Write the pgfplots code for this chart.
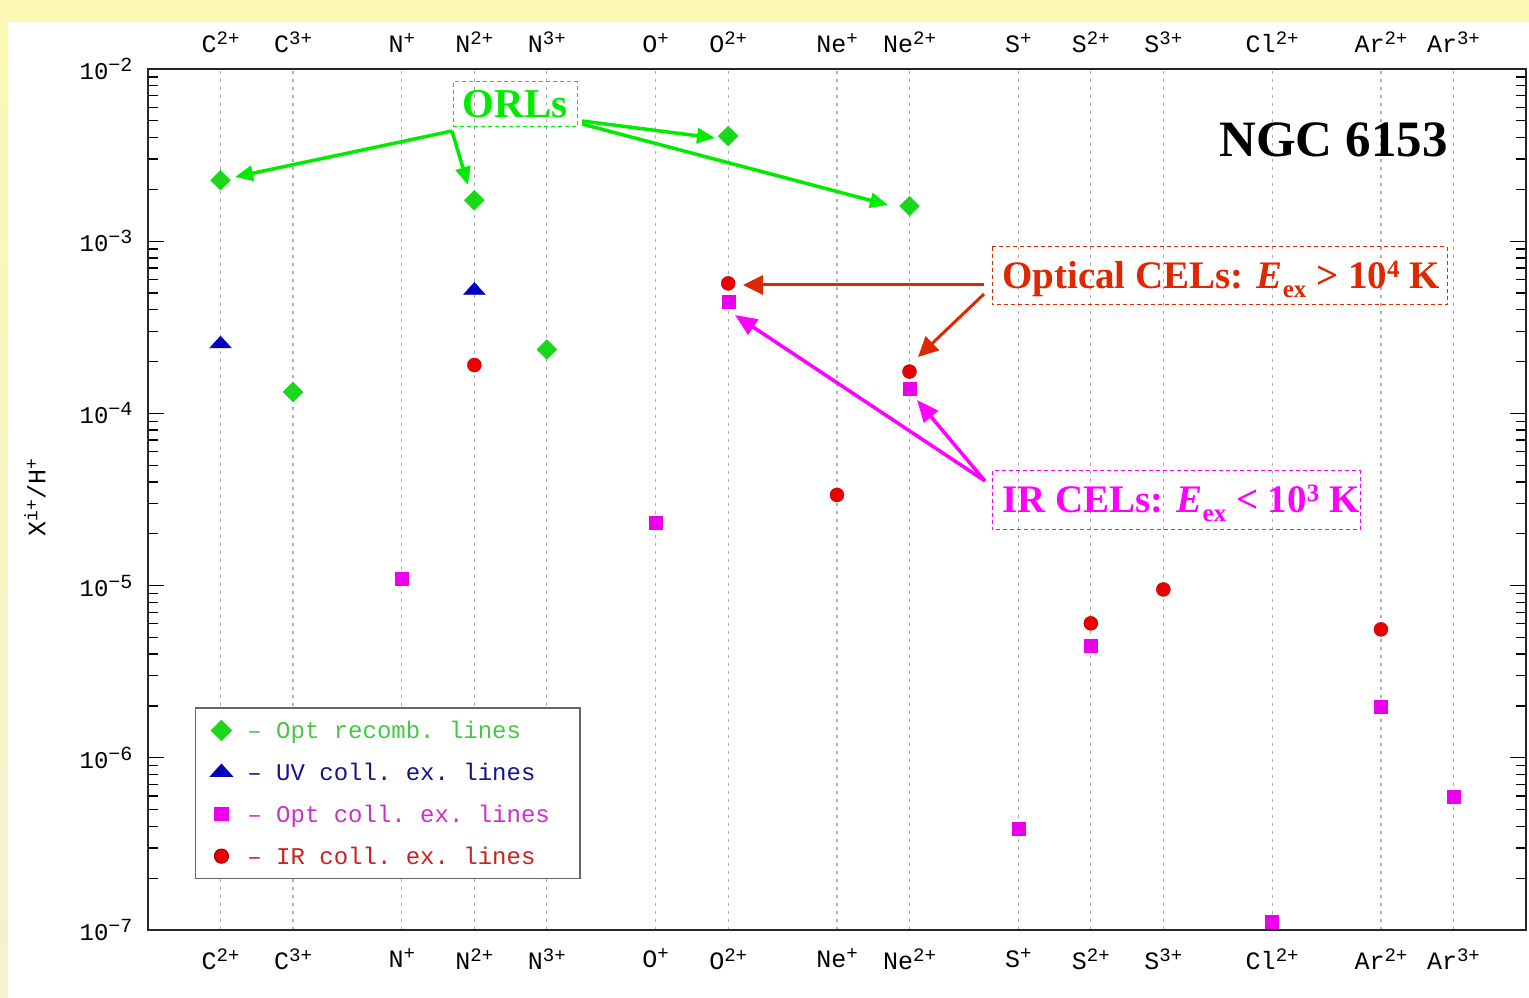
\documentclass[border=0pt]{standalone}
\usepackage{pgfplots}
\pgfplotsset{compat=1.18}
\usepackage{fontspec}
\setmainfont{Liberation Serif}
\setmonofont{Liberation Mono}
\usetikzlibrary{arrows.meta}

% marker and text colours
\definecolor{orlgreen}{RGB}{25,215,25}
\definecolor{orltext}{RGB}{70,200,70}
\definecolor{uvblue}{RGB}{0,0,190}
\definecolor{uvtext}{RGB}{20,20,140}
\definecolor{optmag}{RGB}{235,0,235}
\definecolor{opttext}{RGB}{200,50,200}
\definecolor{irred}{RGB}{235,0,0}
\definecolor{irtext}{RGB}{200,35,35}
\definecolor{annred}{RGB}{222,40,0}
\definecolor{annmag}{RGB}{255,0,255}
\definecolor{anngreen}{RGB}{0,235,0}
\definecolor{bandyellow}{RGB}{250,248,178}
\definecolor{bandlav}{RGB}{230,230,246}
\definecolor{bandbeige}{RGB}{244,242,208}

\newcommand{\tickfont}{\ttfamily\fontsize{25}{28}\selectfont}
\newcommand{\legfont}{\ttfamily\fontsize{24}{28}\selectfont}
% ion name with a raised charge
\newcommand{\ion}[2]{#1\raisebox{8pt}{\fontsize{19}{19}\selectfont #2}}
% power of ten for the y ticks
\newcommand{\decade}[1]{\fontsize{24}{28}\selectfont 10\raisebox{8pt}{\fontsize{20}{20}\selectfont −#1}}
% raised / lowered pieces in the annotation boxes
\newcommand{\up}[1]{\raisebox{11pt}{\fontsize{25}{25}\selectfont #1}}
\newcommand{\dn}[1]{\raisebox{-9pt}{\fontsize{25}{25}\selectfont #1}}

% shared frame and ion positions for both axes
\pgfplotsset{
  ionframe/.style={
    at={(148pt,67pt)}, anchor=south west,
    width=1378pt, height=861pt, scale only axis,
    xmin=-1, xmax=18,
    xtick={0,1,2.5,3.5,4.5,6,7,8.5,9.5,11,12,13,14.5,16,17},
    xticklabels={\ion{C}{2+}, \ion{C}{3+},
      \ion{N}{+}, \ion{N}{2+}, \ion{N}{3+},
      \ion{O}{+}, \ion{O}{2+},
      \ion{Ne}{+}, \ion{Ne}{2+},
      \ion{S}{+}, \ion{S}{2+}, \ion{S}{3+},
      \ion{Cl}{2+}, \ion{Ar}{2+}, \ion{Ar}{3+}},
    xtick style={draw=none},
    ticklabel style={font=\tickfont},
  }
}

% ionic abundances X^{i+}/H^+ (x = ion position)
\pgfplotstableread{
x     y
0     2.26e-3
1     1.33e-4
3.5   1.73e-3
4.5   2.35e-4
7     4.08e-3
9.5   1.60e-3
}\orl
\pgfplotstableread{
x     y
0     2.53e-4
3.5   5.18e-4
}\uvcel
\pgfplotstableread{
x     y
2.5   1.09e-5
6     2.32e-5
7     4.46e-4
9.5   1.40e-4
11    3.90e-7
12    4.46e-6
14.5  1.12e-7
16    1.98e-6
17    5.94e-7
}\optcel
\pgfplotstableread{
x     y
3.5   1.91e-4
7     5.69e-4
8.5   3.36e-5
9.5   1.75e-4
12    6.04e-6
13    9.50e-6
16    5.57e-6
}\ircel

\begin{document}
\begin{tikzpicture}
% slide background
\fill[white] (0pt,0pt) rectangle (1529pt,997pt);
\fill[bandyellow] (0pt,975pt) rectangle (1529pt,997pt);
\shade[top color=bandyellow, middle color=bandlav, bottom color=bandbeige] (0pt,0pt) rectangle (8pt,975pt);

\begin{axis}[
  ionframe,
  xticklabel style={yshift=-15pt},
  ymode=log, ymin=1e-7, ymax=1e-2,
  xmajorgrids,
  major x grid style={gray!65, line width=1.2pt, dash pattern=on 3pt off 5pt},
  ytick={1e-7,1e-6,1e-5,1e-4,1e-3,1e-2},
  yticklabels={\decade{7},\decade{6},\decade{5},\decade{4},\decade{3},\decade{2}},
  yticklabel style={xshift=-12pt},
  tick align=inside,
  major tick length=16pt, minor tick length=10pt,
  ytick style={black, line width=1.3pt},
  axis line style={line width=2.4pt, black!85},
  ylabel={X\raisebox{8pt}{\fontsize{18}{18}\selectfont i+}/H\raisebox{8pt}{\fontsize{18}{18}\selectfont +}},
  ylabel style={font=\tickfont, at={(axis description cs:-0.082,0.502)}, anchor=center},
  legend style={at={(0.034,0.059)}, anchor=south west, draw=black!60, line width=1.2pt,
    fill=white, font=\legfont, row sep=19pt, inner xsep=6pt, inner ysep=11pt},
  legend cell align=left,
  legend image code/.code={%
    \path[draw=none, fill=none] (-20pt,0pt) -- (24pt,0pt);
    \draw[#1] plot coordinates {(0pt,0pt)};},
]
\addplot[only marks, mark=square*, mark size=7pt, mark options={rotate=45, fill=orlgreen, draw=orlgreen}]
  table {\orl};
\addlegendentry{\textcolor{orltext}{– Opt recomb. lines}}
\addplot[only marks, mark=triangle*, mark size=12.5pt, mark options={yscale=0.64, fill=uvblue, draw=uvblue}]
  table {\uvcel};
\addlegendentry{\textcolor{uvtext}{– UV coll. ex. lines}}
\addplot[only marks, mark=square*, mark size=6.5pt, mark options={fill=optmag, draw=optmag}]
  table {\optcel};
\addlegendentry{\textcolor{opttext}{– Opt coll. ex. lines}\hspace*{22pt}}
\addplot[only marks, mark=*, mark size=7pt, mark options={fill=irred, draw=irred!75!black}]
  table {\ircel};
\addlegendentry{\textcolor{irtext}{– IR coll. ex. lines}}
\end{axis}

% ion names along the top edge
\begin{axis}[
  ionframe,
  xticklabel style={yshift=13pt},
  ymin=0, ymax=1,
  xticklabel pos=upper,
  ytick=\empty,
  axis line style={draw=none},
]
\end{axis}

% annotations, in page pixels measured from the top
\begin{scope}[x=1pt, y=-1pt, shift={(0pt,997pt)}]
  \node[draw=anngreen, line width=1pt, dash pattern=on 4pt off 3pt, text=anngreen,
        minimum width=124pt, minimum height=45pt, inner sep=0pt,
        font=\fontsize{41}{41}\selectfont\bfseries] at (515,104.5) {ORLs};
  \node[anchor=base, font=\fontsize{51}{51}\selectfont\bfseries] at (1333.5,157) {NGC 6153};
  \draw[annred, line width=1pt, dash pattern=on 4pt off 3pt] (992,247) rectangle (1447,305);
  \node[anchor=base west, text=annred, inner sep=0pt,
        font=\fontsize{39}{39}\selectfont\bfseries] at (1002,289)
        {Optical CELs: \textit{E}\dn{ex} > 10\up{4} K};
  \draw[annmag, line width=1pt, dash pattern=on 4pt off 3pt] (992,471) rectangle (1360,530);
  \node[anchor=base west, text=annmag, inner sep=0pt,
        font=\fontsize{39}{39}\selectfont\bfseries] at (1002,513)
        {IR CELs: \textit{E}\dn{ex} < 10\up{3} K};

  \begin{scope}[anngreen, line width=3.5pt, -{Triangle[length=18pt,width=15pt]}]
    \draw (452,131) -- (235,177);
    \draw (452,131) -- (468,185);
    \draw (582,121) -- (715,138);
    \draw (582,124) -- (888,205);
  \end{scope}
  \begin{scope}[annred, line width=3pt, -{Triangle[length=20pt,width=19pt]}]
    \draw (984,285) -- (743,285);
    \draw (984,294) -- (918,357);
  \end{scope}
  \begin{scope}[annmag, line width=3.5pt, -{Triangle[length=22pt,width=18pt]}]
    \draw (985,481) -- (735,315);
    \draw (985,481) -- (917,400);
  \end{scope}
\end{scope}
\end{tikzpicture}
\end{document}
